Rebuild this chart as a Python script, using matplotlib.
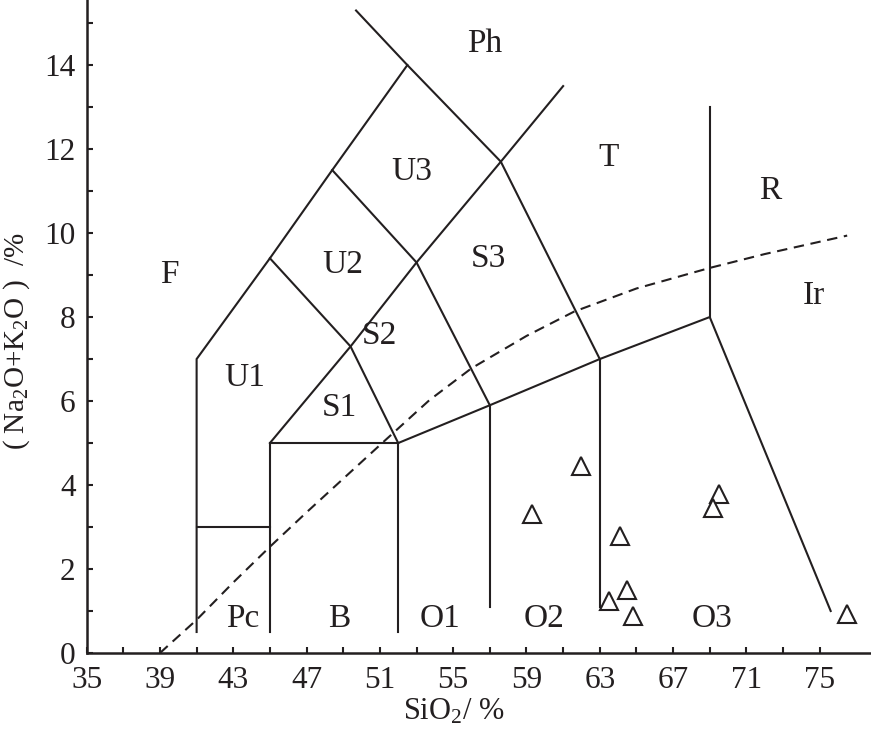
import matplotlib
matplotlib.use('Agg')
from matplotlib import pyplot as plt
from matplotlib.ticker import FixedLocator

INK = '#231f20'

plt.rcParams['font.family'] = ['Liberation Serif', 'DejaVu Serif']
plt.rcParams['mathtext.fontset'] = 'custom'
plt.rcParams['mathtext.rm'] = 'Liberation Serif'
plt.rcParams['mathtext.it'] = 'Liberation Serif:italic'

# field boundaries (SiO2, Na2O+K2O)
outer_left = [(41, 0.5), (41, 7), (45, 9.4), (48.4, 11.5), (52.5, 14)]
ph_line = [(49.7, 15.3), (52.5, 14), (57.6, 11.7), (63, 7)]
s_u_line = [(45, 5), (49.4, 7.3), (53, 9.3), (57.6, 11.7), (61, 13.5)]
pc_top = [(41, 3), (45, 3)]
basalt_box = [(45, 0.5), (45, 5), (52, 5), (52, 0.5)]
lower_line = [(52, 5), (57, 5.9), (63, 7), (69, 8), (75.6, 1.0)]
o1_o2 = [(57, 1.1), (57, 5.9)]
o2_o3 = [(63, 1.1), (63, 7)]
t_r = [(69, 8), (69, 13)]
u1_u2 = [(45, 9.4), (49.4, 7.3), (52, 5)]
u2_u3 = [(48.4, 11.5), (53, 9.3), (57, 5.9)]

boundaries = [outer_left, ph_line, s_u_line, pc_top, basalt_box, lower_line,
              o1_o2, o2_o3, t_r, u1_u2, u2_u3]

# Irvine & Baragar alkaline / subalkaline divide (dashed)
ib_sio2 = [39, 41, 43, 45, 47, 49, 51.2, 53.7, 56, 59, 61.6, 65, 69, 72, 76.5]
ib_alk = [0, 0.79, 1.68, 2.53, 3.35, 4.15, 5.03, 6.02, 6.78, 7.55, 8.13, 8.68, 9.17, 9.5, 9.94]

# samples
sio2 = [59.3, 62.0, 64.1, 69.5, 69.2, 64.5, 63.5, 64.8, 76.5]
alk = [3.30, 4.45, 2.79, 3.78, 3.46, 1.50, 1.24, 0.89, 0.94]

# field names
field_names = ['Ph', 'T', 'R', 'Ir', 'F', 'U3', 'U2', 'S3', 'S2', 'U1', 'S1',
               'Pc', 'B', 'O1', 'O2', 'O3']
field_x = [56.7, 63.5, 72.3, 74.7, 39.5, 52.75, 49.0, 56.9, 51.0, 43.6, 48.8,
           43.5, 48.8, 54.3, 59.95, 69.1]
field_y = [14.5, 11.8, 11.0, 8.5, 9.0, 11.45, 9.25, 9.4, 7.55, 6.55, 5.85,
           0.82, 0.82, 0.82, 0.82, 0.82]


fig = plt.figure(figsize=(8.71, 7.31), dpi=100)
ax = fig.add_axes([0.0995, 0.1067, 0.9005, 0.8933])

for line in boundaries:
    xs, ys = zip(*line)
    ax.plot(xs, ys, color=INK, lw=1.5, solid_joinstyle='miter')

ax.plot(ib_sio2, ib_alk, color=INK, lw=1.5, linestyle=(0, (5, 3.2)))

ax.plot(sio2, alk, linestyle='none', marker='^', markersize=13,
        markerfacecolor='white', markeredgecolor=INK, markeredgewidth=1.5)

for name, x, y in zip(field_names, field_x, field_y):
    ax.text(x, y, name, fontsize=24, color=INK, ha='center', va='center')

ax.set_xlim(35, 77.8)
ax.set_ylim(0, 15.55)
ax.xaxis.set_major_locator(FixedLocator(list(range(35, 76, 4))))
ax.xaxis.set_minor_locator(FixedLocator(list(range(37, 76, 4))))
ax.yaxis.set_major_locator(FixedLocator(list(range(0, 15, 2))))
ax.yaxis.set_minor_locator(FixedLocator(list(range(1, 16, 2))))

ax.tick_params(which='both', direction='in', length=4.5, width=1.5, colors=INK)
ax.tick_params(axis='x', which='major', labelsize=22.5, pad=9)
ax.tick_params(axis='y', which='major', labelsize=22.5, pad=8)

for side in ['top', 'right']:
    ax.spines[side].set_visible(False)
for side in ['left', 'bottom']:
    ax.spines[side].set_linewidth(1.8)
    ax.spines[side].set_color(INK)

ax.set_xlabel('SiO$_2$/ %', fontsize=22, color=INK, va='center')
ax.xaxis.set_label_coords(0.468, -0.0904)
ax.set_ylabel('( Na$_2$O+K$_2$O )  /%', fontsize=21, color=INK, va='center')
ax.yaxis.set_label_coords(-0.0895, 0.478)

fig.savefig('out.png', dpi=100)
